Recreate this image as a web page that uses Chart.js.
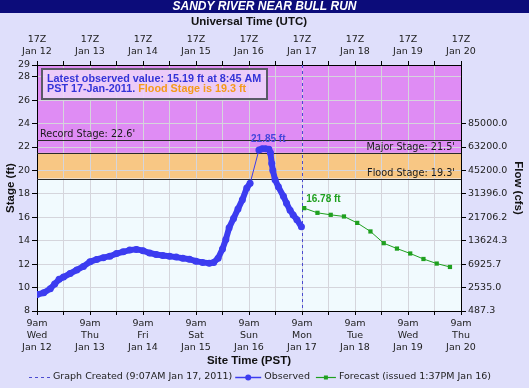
<!DOCTYPE html>
<html>
<head>
<meta charset="utf-8">
<script src="https://cdn.jsdelivr.net/npm/chart.js@4.4.0/dist/chart.umd.min.js"></script>
<style>
  html, body { margin: 0; padding: 0; background: #dfdffb; }
  canvas { display: block; }
</style>
</head>
<body>
<canvas id="myChart" width="529" height="388"></canvas>
<script>
// x values are hours after 9am PST Wed Jan 12 2011
const obsHours = [0, 3, 6, 8, 10, 12, 15, 18, 21, 24, 27, 30, 33, 36, 39, 42, 45, 48, 51, 54, 57, 60, 63, 66, 69, 72, 75, 78, 80, 82, 84, 85.5, 87, 89, 91, 93, 95, 96.5,
  100.5, 102, 103.5, 105, 105.7, 106.3, 106.8, 107.8, 109.3, 111.6, 113, 114.6, 116, 117.7, 119.75];
const obsStage = [9.4, 9.55, 9.9, 10.3, 10.7, 10.9, 11.2, 11.5, 11.8, 12.2, 12.4, 12.55, 12.68, 12.9, 13.05, 13.2, 13.26, 13.15, 12.95, 12.82, 12.74, 12.68, 12.6, 12.5, 12.42, 12.25, 12.15, 12.08, 12.15, 12.5, 13.3, 14.1, 15.1, 15.9, 16.7, 17.5, 18.5, 18.9,
  21.75, 21.85, 21.85, 21.8, 21.5, 20.6, 20.0, 19.2, 18.6, 17.8, 17.2, 16.6, 16.2, 15.8, 15.19];

const fcHours = [121, 127, 133, 139, 145, 151, 157, 163, 169, 175, 181, 187];
const fcStage = [16.78, 16.38, 16.21, 16.07, 15.52, 14.79, 13.79, 13.33, 12.91, 12.44, 12.05, 11.76];

const dayNames = ['Wed', 'Thu', 'Fri', 'Sat', 'Sun', 'Mon', 'Tue', 'Wed', 'Thu'];
const dayDates = ['Jan 12', 'Jan 13', 'Jan 14', 'Jan 15', 'Jan 16', 'Jan 17', 'Jan 18', 'Jan 19', 'Jan 20'];

const stageTicks = [8, 10, 12, 14, 16, 18, 20, 22, 24, 26, 28, 29];
const flowTicks = [8, 10, 12, 14, 16, 18, 20, 22, 24];
const flowLabels = ['487.3', '2535.0', '6925.7', '13624.3', '21706.2', '31396.0', '45200.0', '63200.0', '85000.0'];

const floodStage = 19.3;
const majorStage = 21.5;
const recordStage = 22.6;
const createdHour = 120.12; // 9:07AM Jan 17

const tickFont = { family: 'DejaVu Sans', size: 9.5, lineHeight: 1.27 };
const titleFont = { family: 'Liberation Sans', size: 11.5, weight: 'bold' };
const hourTicks = [];
for (let h = 0; h <= 192; h += 12) hourTicks.push(h);

const hydroPlugin = {
  id: 'hydro',
  beforeDraw(chart) {
    const { ctx, chartArea: a } = chart;
    const y = chart.scales.y;
    ctx.save();
    ctx.fillStyle = '#dfdffb';
    ctx.fillRect(0, 0, chart.width, chart.height);
    // title bar
    ctx.fillStyle = '#0c0c7a';
    ctx.fillRect(0, 0, chart.width, 13);
    ctx.fillStyle = '#fff';
    ctx.font = 'italic bold 12px "Liberation Sans"';
    ctx.textAlign = 'center';
    ctx.textBaseline = 'middle';
    ctx.fillText('SANDY RIVER NEAR BULL RUN', chart.width / 2, 7);
    // stage bands
    const yMaj = y.getPixelForValue(majorStage);
    const yFl = y.getPixelForValue(floodStage);
    ctx.fillStyle = '#df8cf4';
    ctx.fillRect(a.left, a.top, a.width, yMaj - a.top);
    ctx.fillStyle = '#f8c784';
    ctx.fillRect(a.left, yMaj, a.width, yFl - yMaj);
    ctx.fillStyle = '#f1fafe';
    ctx.fillRect(a.left, yFl, a.width, a.bottom - yFl);
    ctx.restore();
  },
  beforeDatasetsDraw(chart) {
    const { ctx, chartArea: a } = chart;
    const x = chart.scales.x, y = chart.scales.y;
    ctx.save();
    ctx.strokeStyle = '#2a2a2a';
    ctx.lineWidth = 1.2;
    [recordStage, majorStage, floodStage].forEach(s => {
      const py = Math.round(y.getPixelForValue(s)) + 0.5;
      ctx.beginPath();
      ctx.moveTo(a.left, py);
      ctx.lineTo(a.right, py);
      ctx.stroke();
    });
    ctx.fillStyle = '#1a1a1a';
    ctx.font = '9.7px "DejaVu Sans"';
    ctx.textBaseline = 'alphabetic';
    ctx.textAlign = 'left';
    ctx.fillText("Record Stage: " + recordStage + "'", a.left + 3, y.getPixelForValue(recordStage) - 3);
    ctx.textAlign = 'right';
    ctx.fillText("Major Stage: " + majorStage + "'", a.right - 6, y.getPixelForValue(majorStage) - 3);
    ctx.fillText("Flood Stage: " + floodStage + "'", a.right - 6, y.getPixelForValue(floodStage) - 3);
    // graph created line
    const cx = Math.round(x.getPixelForValue(createdHour)) + 0.5;
    ctx.strokeStyle = '#4b4bd0';
    ctx.lineWidth = 1;
    ctx.setLineDash([3, 3]);
    ctx.beginPath();
    ctx.moveTo(cx, a.top);
    ctx.lineTo(cx, a.bottom);
    ctx.stroke();
    ctx.restore();
  },
  afterDatasetsDraw(chart) {
    const { ctx } = chart;
    const x = chart.scales.x, y = chart.scales.y;
    ctx.save();
    // peak label
    const peak = Math.max(...obsStage);
    const pi = obsStage.indexOf(peak);
    ctx.font = 'bold 10px "Liberation Sans"';
    ctx.textBaseline = 'middle';
    ctx.textAlign = 'center';
    ctx.fillStyle = '#4646dc';
    ctx.fillText(peak.toFixed(2) + ' ft', x.getPixelForValue(obsHours[pi]) + 6, y.getPixelForValue(peak) - 10);
    // forecast first value label
    ctx.textAlign = 'left';
    ctx.fillStyle = '#1fa01f';
    ctx.fillText(fcStage[0].toFixed(2) + ' ft', x.getPixelForValue(fcHours[0]) + 2, y.getPixelForValue(fcStage[0]) - 9);
    // info box
    ctx.fillStyle = 'rgba(238,214,248,0.85)';
    ctx.fillRect(42, 69, 225, 30);
    ctx.strokeStyle = '#5a5a66';
    ctx.lineWidth = 2;
    ctx.strokeRect(42, 69, 225, 30);
    ctx.font = 'bold 10.8px "Liberation Sans"';
    ctx.fillStyle = '#3434d8';
    ctx.fillText('Latest observed value: 15.19 ft at 8:45 AM', 47, 79);
    const first = 'PST 17-Jan-2011. ';
    ctx.fillText(first, 47, 89.5);
    ctx.fillStyle = '#f59a1a';
    ctx.fillText('Flood Stage is ' + floodStage + ' ft', 47 + ctx.measureText(first).width, 89.5);
    ctx.restore();
  },
  afterDraw(chart) {
    const { ctx } = chart;
    ctx.save();
    ctx.font = '9.5px "DejaVu Sans"';
    ctx.textBaseline = 'middle';
    ctx.textAlign = 'left';
    ctx.fillStyle = '#222';
    const ly = 377;
    let lx = 29;
    // graph created
    ctx.strokeStyle = '#4b4bd0';
    ctx.lineWidth = 1;
    ctx.setLineDash([3, 3]);
    ctx.beginPath(); ctx.moveTo(lx, ly + 0.5); ctx.lineTo(lx + 21, ly + 0.5); ctx.stroke();
    ctx.setLineDash([]);
    lx += 24;
    let t = 'Graph Created (9:07AM Jan 17, 2011)';
    ctx.fillText(t, lx, ly);
    lx += ctx.measureText(t).width + 3;
    // observed
    ctx.strokeStyle = '#3c3cf0';
    ctx.lineWidth = 1.5;
    ctx.beginPath(); ctx.moveTo(lx, ly + 0.5); ctx.lineTo(lx + 26, ly + 0.5); ctx.stroke();
    ctx.fillStyle = '#3c3cf0';
    ctx.beginPath(); ctx.arc(lx + 13, ly + 0.5, 3, 0, Math.PI * 2); ctx.fill();
    lx += 29;
    ctx.fillStyle = '#222';
    t = 'Observed';
    ctx.fillText(t, lx, ly);
    lx += ctx.measureText(t).width + 6;
    // forecast
    ctx.strokeStyle = '#1fa01f';
    ctx.lineWidth = 1.2;
    ctx.beginPath(); ctx.moveTo(lx, ly + 0.5); ctx.lineTo(lx + 20, ly + 0.5); ctx.stroke();
    ctx.fillStyle = '#1fa01f';
    ctx.fillRect(lx + 8, ly - 1.5, 4, 4);
    lx += 23;
    ctx.fillStyle = '#222';
    ctx.fillText('Forecast (issued 1:37PM Jan 16)', lx, ly);
    ctx.restore();
  }
};

const setHourTicks = s => { s.ticks = hourTicks.map(v => ({ value: v })); };

const ctx = document.getElementById('myChart').getContext('2d');
const hydroChart = new Chart(ctx, {
  type: 'line',
  data: {
    datasets: [{
      label: 'Observed',
      data: obsHours.map((h, i) => ({ x: h, y: obsStage[i] })),
      borderColor: '#3c3cf0',
      backgroundColor: '#3c3cf0',
      borderWidth: 6,
      pointRadius: 3.5,
      pointBorderWidth: 0,
      tension: 0,
      segment: {
        borderWidth: c => (c.p1.parsed.x - c.p0.parsed.x > 3.2 ? 1 : 6)
      }
    }, {
      label: 'Forecast',
      data: fcHours.map((h, i) => ({ x: h, y: fcStage[i] })),
      borderColor: '#1fa01f',
      backgroundColor: '#1fa01f',
      borderWidth: 1,
      pointStyle: 'rect',
      pointRadius: 3,
      pointBorderWidth: 0,
      tension: 0
    }]
  },
  options: {
    responsive: false,
    animation: false,
    devicePixelRatio: 1,
    layout: { padding: 0 },
    plugins: { legend: { display: false }, tooltip: { enabled: false } },
    scales: {
      x: {
        type: 'linear', position: 'bottom', min: 0, max: 192,
        afterBuildTicks: setHourTicks,
        afterFit: s => { s.height = 77; },
        grid: { color: '#d5d5dc', tickColor: '#000', tickLength: 4 },
        border: { color: '#000', width: 1 },
        ticks: {
          autoSkip: false, maxRotation: 0, minRotation: 0, padding: 2,
          font: tickFont, color: '#222',
          callback: v => (v % 24 === 0 ? ['9am', dayNames[v / 24], dayDates[v / 24]] : '')
        },
        title: { display: true, text: 'Site Time (PST)', font: titleFont, color: '#111', padding: { top: 0, bottom: 20 } }
      },
      x2: {
        type: 'linear', position: 'top', min: 0, max: 192,
        afterBuildTicks: setHourTicks,
        afterFit: s => { s.height = 65; },
        grid: { drawOnChartArea: false, tickColor: '#000', tickLength: 4 },
        border: { color: '#000', width: 1 },
        ticks: {
          autoSkip: false, maxRotation: 0, minRotation: 0, padding: 3,
          font: tickFont, color: '#222',
          callback: v => (v % 24 === 0 ? ['17Z', dayDates[v / 24]] : '')
        },
        title: { display: true, text: 'Universal Time (UTC)', font: titleFont, color: '#111', padding: { top: 15, bottom: 0 } }
      },
      y: {
        type: 'linear', position: 'left', min: 8, max: 29,
        afterBuildTicks: s => { s.ticks = stageTicks.map(v => ({ value: v })); },
        afterFit: s => { s.width = 37; },
        grid: { color: '#d5d5dc', tickColor: '#000', tickLength: 5 },
        border: { color: '#000', width: 1 },
        ticks: { font: tickFont, color: '#222', padding: 2 },
        title: { display: true, text: 'Stage (ft)', font: titleFont, color: '#111', padding: { top: 4, bottom: 0 } }
      },
      y2: {
        type: 'linear', position: 'right', min: 8, max: 29,
        afterBuildTicks: s => { s.ticks = flowTicks.map(v => ({ value: v })); },
        afterFit: s => { s.width = 68; },
        grid: { drawOnChartArea: false, tickColor: '#000', tickLength: 5 },
        border: { color: '#000', width: 1 },
        ticks: {
          font: tickFont, color: '#222', padding: 2,
          callback: v => flowLabels[flowTicks.indexOf(v)]
        },
        title: { display: true, text: 'Flow (cfs)', font: titleFont, color: '#111', padding: { top: 4, bottom: 0 } }
      }
    }
  },
  plugins: [hydroPlugin]
});
</script>
</body>
</html>
